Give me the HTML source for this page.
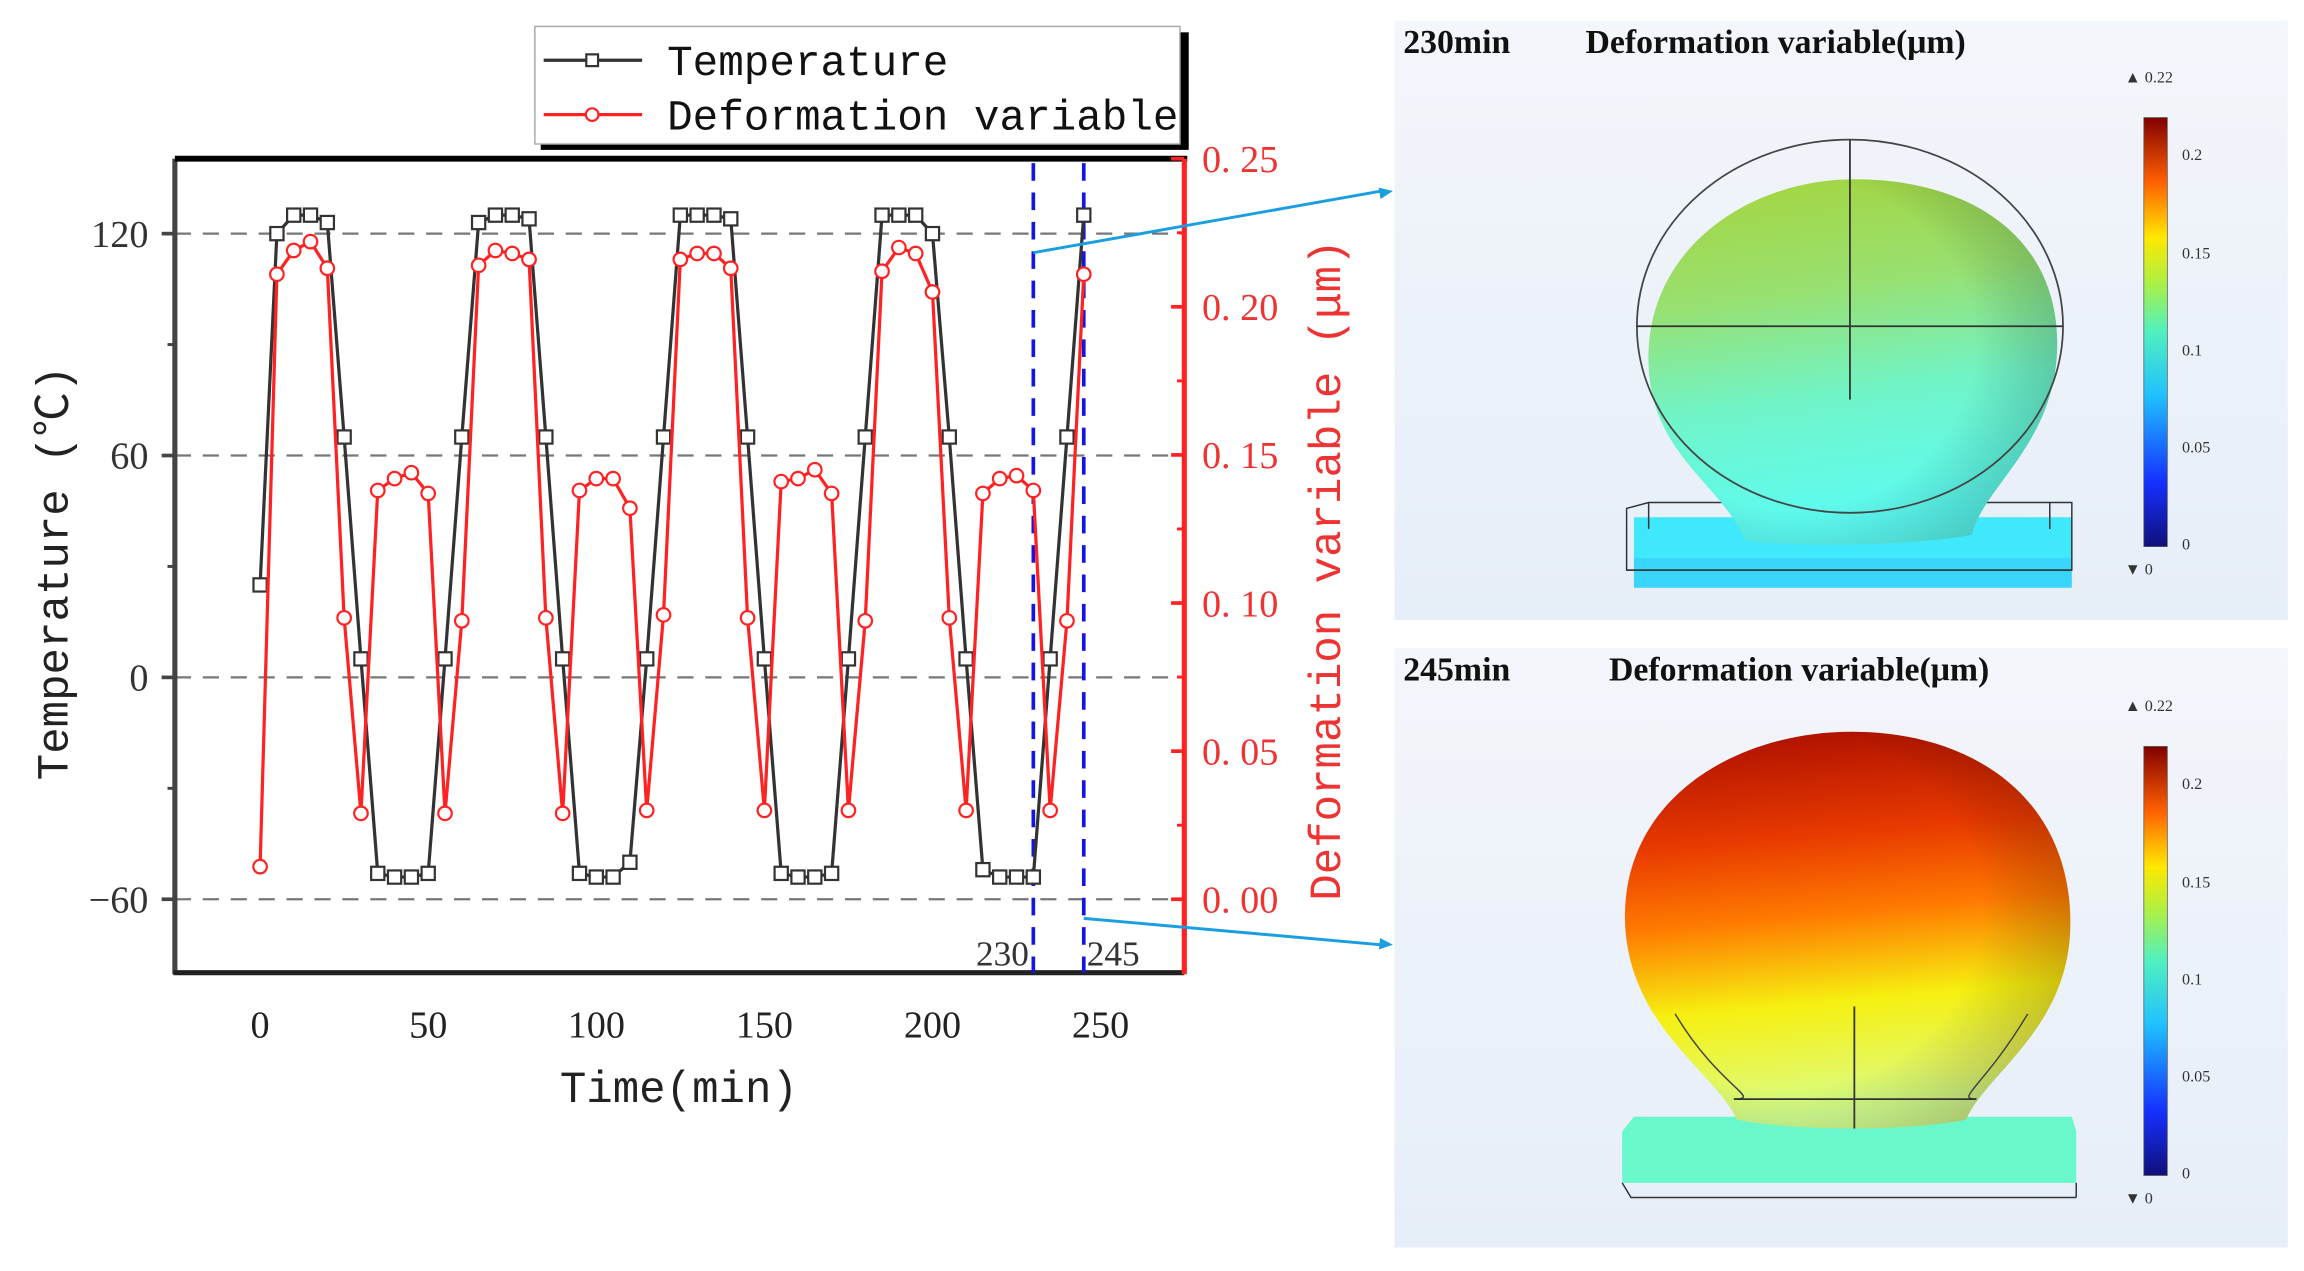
<!DOCTYPE html>
<html><head><meta charset="utf-8">
<style>
html,body{margin:0;padding:0;background:#fff;}
svg{display:block;}
.serif{font-family:"Liberation Serif","Noto Serif CJK SC",serif;}
.mono{font-family:"Liberation Mono","Noto Sans CJK SC",monospace;}
</style></head>
<body>
<svg id="chart" width="2304" height="1271" viewBox="0 0 1568 865" xmlns="http://www.w3.org/2000/svg">
<defs>
<linearGradient id="bg1" x1="0" y1="0" x2="0" y2="1"><stop offset="0" stop-color="#f3f6fb"/><stop offset="1" stop-color="#e6eef8"/></linearGradient>
<linearGradient id="s1" x1="0" y1="0" x2="0.15" y2="1"><stop offset="0" stop-color="#a6d43c"/><stop offset="0.35" stop-color="#98e070"/><stop offset="0.65" stop-color="#70f4c8"/><stop offset="1" stop-color="#5cfcf4"/></linearGradient>
<radialGradient id="s1r" cx="0.35" cy="0.45" r="0.75"><stop offset="0.6" stop-color="#000" stop-opacity="0"/><stop offset="1" stop-color="#104030" stop-opacity="0.3"/></radialGradient>
<linearGradient id="s2" x1="0" y1="0" x2="0.1" y2="1"><stop offset="0" stop-color="#a80c00"/><stop offset="0.3" stop-color="#e83a00"/><stop offset="0.5" stop-color="#ff7a00"/><stop offset="0.72" stop-color="#f6f010"/><stop offset="0.9" stop-color="#e4f860"/><stop offset="1" stop-color="#d0ff90"/></linearGradient>
<radialGradient id="s2r" cx="0.35" cy="0.45" r="0.75"><stop offset="0.6" stop-color="#000" stop-opacity="0"/><stop offset="1" stop-color="#401000" stop-opacity="0.3"/></radialGradient>
<linearGradient id="cb" x1="0" y1="1" x2="0" y2="0"><stop offset="0" stop-color="#10107a"/><stop offset="0.15" stop-color="#1530ff"/><stop offset="0.35" stop-color="#20c0ff"/><stop offset="0.5" stop-color="#50f0c0"/><stop offset="0.62" stop-color="#b0f040"/><stop offset="0.72" stop-color="#ffe800"/><stop offset="0.85" stop-color="#ff6000"/><stop offset="1" stop-color="#800000"/></linearGradient>
</defs>

<g>
<rect x="949" y="14" width="608" height="408" fill="url(#bg1)"/>
<text x="955" y="36" class="serif" font-size="23" font-weight="bold" fill="#111">230min</text>
<text x="1079" y="36" class="serif" font-size="23" font-weight="bold" fill="#111">Deformation variable(μm)</text>
<rect x="1112" y="362" width="298" height="38" fill="#38d4fa"/>
<rect x="1112" y="352" width="298" height="28" fill="#40e8fc"/>
<path d="M1107 346 L1122 342 L1410 342 L1410 388 L1107 388 Z" fill="none" stroke="#333" stroke-width="1"/>
<path d="M1122 342 L1122 360 M1395 342 L1395 360 M1107 388 L1410 388" stroke="#333" stroke-width="1"/>
<path d="M1188 368 C1172 330 1125 310 1122 250 C1118 170 1190 122 1262 122 C1340 122 1398 160 1400 230 C1402 300 1350 330 1342 364 C1300 372 1220 372 1188 368 Z" fill="url(#s1)"/>
<path d="M1188 368 C1172 330 1125 310 1122 250 C1118 170 1190 122 1262 122 C1340 122 1398 160 1400 230 C1402 300 1350 330 1342 364 C1300 372 1220 372 1188 368 Z" fill="url(#s1r)"/>
<ellipse cx="1259" cy="222" rx="145" ry="127" fill="none" stroke="#444" stroke-width="1.2"/>
<path d="M1114 222 L1404 222 M1259 95 L1259 272" stroke="#333" stroke-width="1.2"/>
<rect x="1459" y="80" width="16" height="292" fill="url(#cb)" stroke="#555" stroke-width="0.5"/>
<g class="serif" font-size="11" fill="#333">
<text x="1446" y="56">▲ 0.22</text><text x="1446" y="391">▼ 0</text>
<text x="1485" y="109">0.2</text><text x="1485" y="176">0.15</text><text x="1485" y="242">0.1</text><text x="1485" y="308">0.05</text><text x="1485" y="374">0</text>
</g>
</g>

<g>
<rect x="949" y="441" width="608" height="408" fill="url(#bg1)"/>
<text x="955" y="463" class="serif" font-size="23" font-weight="bold" fill="#111">245min</text>
<text x="1095" y="463" class="serif" font-size="23" font-weight="bold" fill="#111">Deformation variable(μm)</text>
<path d="M1104 770 L1112 760 L1410 760 L1413 770 L1413 805 L1104 805 Z" fill="#68f8cc"/>
<path d="M1104 805 L1110 815 L1413 815 M1413 805 L1413 815" fill="none" stroke="#333" stroke-width="1"/>
<path d="M1182 762 C1168 730 1110 700 1106 630 C1102 545 1180 498 1260 498 C1345 498 1410 545 1409 630 C1408 700 1352 730 1338 762 C1300 770 1220 770 1182 762 Z" fill="url(#s2)"/>
<path d="M1182 762 C1168 730 1110 700 1106 630 C1102 545 1180 498 1260 498 C1345 498 1410 545 1409 630 C1408 700 1352 730 1338 762 C1300 770 1220 770 1182 762 Z" fill="url(#s2r)"/>
<path d="M1140 690 C1170 740 1200 748 1180 748 M1380 690 C1350 740 1330 748 1345 748" fill="none" stroke="#444" stroke-width="1"/>
<path d="M1180 748 L1345 748 M1262 685 L1262 768" stroke="#333" stroke-width="1.2"/>
<rect x="1459" y="508" width="16" height="292" fill="url(#cb)" stroke="#555" stroke-width="0.5"/>
<g class="serif" font-size="11" fill="#333">
<text x="1446" y="484">▲ 0.22</text><text x="1446" y="819">▼ 0</text>
<text x="1485" y="537">0.2</text><text x="1485" y="604">0.15</text><text x="1485" y="670">0.1</text><text x="1485" y="736">0.05</text><text x="1485" y="802">0</text>
</g>
</g>

<g id="plot"></g>
</svg>
<script>
const times = [0,5,10,15,20,25,30,35,40,45,50,55,60,65,70,75,80,85,90,95,100,105,110,115,120,125,130,135,140,145,150,155,160,165,170,175,180,185,190,195,200,205,210,215,220,225,230,235,240,245];
const temperature = [25,120,125,125,123,65,5,-53,-54,-54,-53,5,65,123,125,125,124,65,5,-53,-54,-54,-50,5,65,125,125,125,124,65,5,-53,-54,-54,-53,5,65,125,125,125,120,65,5,-52,-54,-54,-54,5,65,125];
const deformation = [0.011,0.211,0.219,0.222,0.213,0.095,0.029,0.138,0.142,0.144,0.137,0.029,0.094,0.214,0.219,0.218,0.216,0.095,0.029,0.138,0.142,0.142,0.132,0.030,0.096,0.216,0.218,0.218,0.213,0.095,0.030,0.141,0.142,0.145,0.137,0.030,0.094,0.212,0.220,0.218,0.205,0.095,0.030,0.137,0.142,0.143,0.138,0.030,0.094,0.211];
const xTicks = [0,50,100,150,200,250];
const tempTicks = [120,60,0,-60];
const tempMinor = [90,30,-30];
const defTicks = [0,0.05,0.10,0.15,0.20,0.25];
const defTickLabels = ["0. 00","0. 05","0. 10","0. 15","0. 20","0. 25"];
const markerTimes = [230,245];

const NS='http://www.w3.org/2000/svg';
const g=document.getElementById('plot');
const L=119,R=806,T=108,B=662;
const x=t=>177+t*(749-177)/250;
const yT=v=>461-v*(151/60);
const yD=v=>612-v*2016;
function mk(tag,attrs,parent){const e=document.createElementNS(NS,tag);for(const k in attrs)e.setAttribute(k,attrs[k]);(parent||g).appendChild(e);return e;}

tempTicks.forEach(v=>{
  const l=mk('line',{x1:L,x2:R,y1:yT(v),y2:yT(v),stroke:'#777','stroke-width':1.6,'stroke-dasharray':'11 8'});
  
  
});
let a=mk('line',{x1:L,x2:L,y1:T,y2:B+1,stroke:'#444','stroke-width':3.5});


a=mk('line',{x1:L-1,x2:R,y1:B,y2:B,stroke:'#222','stroke-width':3.5});


a=mk('line',{x1:L,x2:R+2,y1:T,y2:T,stroke:'#000','stroke-width':4});


a=mk('line',{x1:R,x2:R,y1:T,y2:B+1,stroke:'#f22','stroke-width':3.5});



tempTicks.forEach(v=>{
  mk('line',{x1:L-9,x2:L,y1:yT(v),y2:yT(v),stroke:'#444','stroke-width':2.5});
  const t=mk('text',{x:101,y:yT(v)+9,'text-anchor':'end','font-size':26,fill:'#333',class:'serif'});
  t.textContent=v<0?'\u2212'+(-v):String(v);
  
  
});
tempMinor.forEach(v=>mk('line',{x1:L-5,x2:L,y1:yT(v),y2:yT(v),stroke:'#444','stroke-width':2}));
xTicks.forEach(v=>{
  const t=mk('text',{x:x(v),y:706,'text-anchor':'middle','font-size':26,fill:'#222',class:'serif'});
  t.textContent=String(v);
  
  
});
defTicks.forEach((v,i)=>{
  mk('line',{x1:R-9,x2:R,y1:yD(v),y2:yD(v),stroke:'#f22','stroke-width':2.5});
  if(i<defTicks.length-1) mk('line',{x1:R-5,x2:R,y1:yD(v+0.025),y2:yD(v+0.025),stroke:'#f22','stroke-width':2});
  const t=mk('text',{x:818,y:yD(v)+9,'font-size':26,fill:'#e33',class:'serif'});
  t.textContent=defTickLabels[i];
  
  
});

markerTimes.forEach(m=>{
  const l=mk('line',{x1:x(m),x2:x(m),y1:T+3,y2:B,stroke:'#1515e0','stroke-width':2.5,'stroke-dasharray':'12 8'});
  
  
});
let t1=mk('text',{x:x(230)-3,y:657,'text-anchor':'end','font-size':24,fill:'#333',class:'serif'});t1.textContent='230';


t1=mk('text',{x:x(245)+2,y:657,'font-size':24,fill:'#333',class:'serif'});t1.textContent='245';



function series(vals,yf,color,marker,name){
  const pts=times.map((t,i)=>x(t)+','+yf(vals[i])).join(' ');
  const p=mk('polyline',{points:pts,fill:'none',stroke:color,'stroke-width':2.2});
  
  
  times.forEach((t,i)=>{
    let m;
    if(marker==='sq') m=mk('rect',{x:x(t)-4.5,y:yf(vals[i])-4.5,width:9,height:9,fill:'#fff',stroke:color,'stroke-width':1.5});
    else m=mk('circle',{cx:x(t),cy:yf(vals[i]),r:4.6,fill:'#fff',stroke:color,'stroke-width':1.5});
    
    
  });
}
series(temperature,yT,'#333','sq','temperature');
series(deformation,yD,'#f22','ci','deformation');

[[x(230),172,948,130],[x(245),625,948,643]].forEach((c,i)=>{
  const l=mk('line',{x1:c[0],y1:c[1],x2:c[2]-8,y2:c[3],stroke:'#1a9ee0','stroke-width':2});
  
  
  const ang=Math.atan2(c[3]-c[1],c[2]-c[0]);
  const hx=c[2],hy=c[3],s=10;
  mk('polygon',{points:`${hx},${hy} ${hx-s*Math.cos(ang-0.4)},${hy-s*Math.sin(ang-0.4)} ${hx-s*Math.cos(ang+0.4)},${hy-s*Math.sin(ang+0.4)}`,fill:'#1a9ee0'});
});

let at=mk('text',{x:0,y:0,transform:'translate(46,390) rotate(-90)','text-anchor':'middle','font-size':30,fill:'#222',class:'mono'});
at.textContent='Temperature (℃)';


at=mk('text',{x:0,y:0,transform:'translate(912,388) rotate(-90)','text-anchor':'middle','font-size':30,fill:'#e33',class:'mono'});
at.textContent='Deformation variable (μm)';


at=mk('text',{x:462,y:750,'text-anchor':'middle','font-size':30,fill:'#222',class:'mono'});
at.textContent='Time(min)';



const lg=mk('g',{});


mk('rect',{x:368,y:22,width:441,height:80,fill:'#000'},lg);
mk('rect',{x:364,y:18,width:439,height:80,fill:'#fff',stroke:'#aaa','stroke-width':1},lg);
mk('line',{x1:370,x2:437,y1:41,y2:41,stroke:'#333','stroke-width':2.2},lg);
mk('rect',{x:399,y:37,width:8,height:8,fill:'#fff',stroke:'#333','stroke-width':1.5},lg);
mk('line',{x1:370,x2:437,y1:78,y2:78,stroke:'#f22','stroke-width':2.2},lg);
mk('circle',{cx:403,cy:78,r:4.3,fill:'#fff',stroke:'#f22','stroke-width':1.5},lg);
let lt=mk('text',{x:454,y:51,'font-size':29,fill:'#111',class:'mono'},lg);lt.textContent='Temperature';


lt=mk('text',{x:454,y:88,'font-size':29,fill:'#111',class:'mono'},lg);lt.textContent='Deformation variable';


</script>
</body></html>
